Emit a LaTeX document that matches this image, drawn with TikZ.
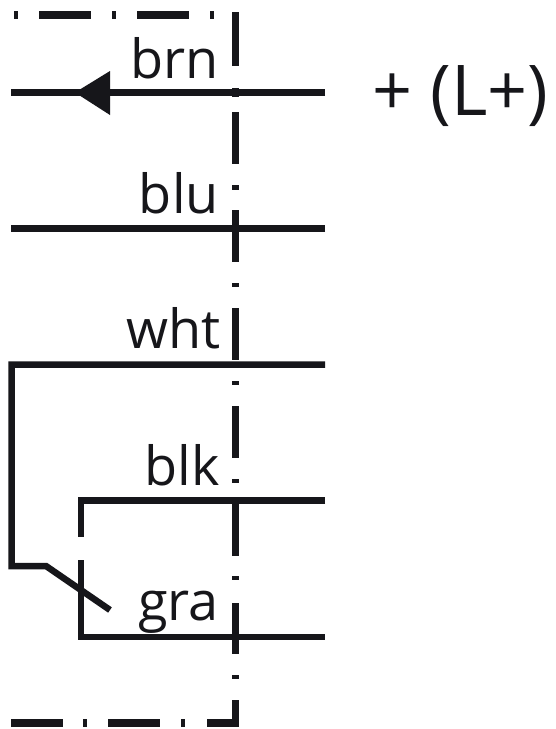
\documentclass[tikz,border=0pt]{standalone}
\usepackage{fontspec}
\setmainfont{Open Sans}
\tikzset{
  x=1pt,y=-1pt,
  wire/.style={line width=6.5pt,line cap=butt,line join=miter,draw=inkc},
  bound/.style={line width=7.5pt,line cap=butt,draw=inkc},
  lab/.style={anchor=base east,inner sep=0pt,font=\fontsize{54}{54}\selectfont,text=inkc},
  biglab/.style={anchor=base west,inner sep=0pt,font=\fontsize{70}{70}\selectfont,text=inkc},
  endp/.style={inner sep=0pt,minimum size=0pt}
}
\definecolor{inkc}{HTML}{16161A}
\begin{document}
\begin{tikzpicture}
\useasboundingbox (0,0) rectangle (555,729);
\fill[white] (0,0) rectangle (555,729);
% boundary, top
\foreach \a/\b in {14/18,39/91,112/116,137/189,210/214}
  \draw[bound] (\a,15) -- (\b,15);
% boundary, bottom
\foreach \a/\b in {11/63,83/87,108/160,181/185,207/239}
  \draw[bound] (\a,723) -- (\b,723);
% boundary, right
\foreach \a/\b in {12/66,88/97,112/164,185/190,210/262,283/287,308/360,381/385,406/458,479/483,500/556,576/580,603/654,675/679,700/727}
  \draw[bound] (235.5,\a) -- (235.5,\b);
% terminals
\foreach \n/\y in {a/92.5,b/228.5,c/364.5,d/500.5,e/637}
  \node[endp] (r\n) at (325,\y) {};
\node[endp] (lb) at (11,92.5) {};
\node[endp] (lc) at (11,228.5) {};
\coordinate (wc) at (11.5,364.5);
\coordinate (wd) at (11.5,566);
\coordinate (we) at (46,566);
\coordinate (wf) at (110,610);
\coordinate (gc) at (81,500.5);
\coordinate (gd) at (81,537);
\coordinate (ge) at (81,560);
\coordinate (gf) at (81,637);
\draw[wire] (ra.center) -- (lb.center);
\fill[inkc] (75,92.5) -- (110,71) -- (110,115) -- cycle;
\draw[wire] (rb.center) -- (lc.center);
\draw[wire] (rc.center) -- (wc) -- (wd) -- (we) -- (wf);
\draw[wire] (rd.center) -- (gc) -- (gd);
\draw[wire] (ge) -- (gf) -- (re.center);
% labels
\node[lab] (tbrn) at (219,78) {brn};
\node[lab] (tblu) at (219,213) {blu};
\node[lab] (twht) at (221,348) {wht};
\node[lab] (tblk) at (220,485) {blk};
\node[lab] (tgra) at (219,620) {gra};
\node[biglab] (tlp) at (372,115) {+ (L+)};
\end{tikzpicture}
\end{document}
